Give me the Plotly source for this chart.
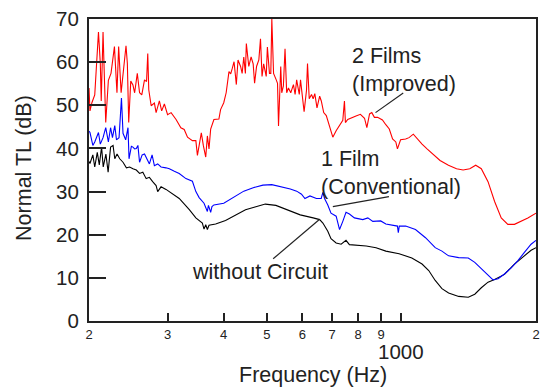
import math
import plotly.graph_objects as go

# ---------------- data ----------------
freq_red = [200, 201, 203, 206, 210, 212, 213, 215, 218, 221,
            224, 226, 228, 231, 233, 236, 239.5, 242, 243.7, 245.4,
            248, 250.8, 253, 256.5, 259.5, 262.5, 266.2, 269, 270.7, 272.1,
            275.5, 280.1, 282.6, 287.4, 290.8, 294.9, 299.8, 305.3, 313.2, 321,
            326.6, 332.2, 340.7, 346.8, 349.6, 355.7, 356.7, 360.4, 364.9, 368,
            371.1, 374.3, 380.6, 390.5, 393.9, 400.4, 405.4, 411.3, 415, 418.5,
            422.2, 427.2, 430.9, 436.7, 440.2, 443.9, 447.6, 449.8, 455.5, 461,
            465.9, 469.3, 474.1, 479.7, 483.8, 487.7, 491.8, 498.3, 501.3, 506.7,
            510.2, 512.9, 517.5, 524.7, 528.2, 530.9, 535.5, 537, 539.8, 544.4,
            549, 553.7, 558.7, 565.4, 573.3, 578.3, 582.9, 590.8, 594.6, 599.4,
            605.7, 613.2, 616.4, 621.9, 629.2, 634.6, 640, 647.3, 656.2, 661.8,
            670, 679, 690.7, 702.2, 714.4, 727, 739.3, 745.6, 749.3, 758.3,
            771.4, 791.3, 809.5, 826.8, 836.8, 848.5, 858.4, 870.1, 884.4, 906.8,
            922.8, 939.3, 955.3, 971.4, 979.6, 995.6, 1022, 1040, 1063, 1085,
            1112, 1141, 1181, 1220, 1274, 1328, 1374, 1422, 1466, 1509,
            1562, 1616, 1672, 1730, 1790, 1853, 1918, 2000]
tl_red = [54, 48.7, 50.6, 52.4, 67, 59.7, 51, 67, 46, 55.8,
          57.4, 60.4, 63.6, 52.9, 63.6, 52.9, 59.7, 63.8, 59.7, 46,
          55.6, 54.7, 52.9, 57.4, 52.9, 52.4, 55.9, 55.5, 62, 53.6,
          49.9, 50.5, 48.3, 51, 48.7, 50.3, 47.8, 48.3, 46.7, 44.8,
          44.4, 42.6, 41.8, 41.8, 38.4, 43.3, 43.6, 40.7, 38, 42.9,
          39.9, 44.5, 46.7, 46.8, 49, 50.6, 52.9, 57.8, 57.3, 58.6,
          60.1, 54.8, 60.5, 59, 57.4, 61.2, 57.4, 64.3, 59, 61.2,
          59.6, 55.1, 59, 60.5, 65.4, 56.7, 59.6, 56.7, 63.5, 57.4,
          57.4, 70, 57.4, 55.9, 55.1, 45.2, 55.9, 59, 52.9, 54.5,
          63.1, 52.9, 54, 52.9, 54.8, 52.5, 55.9, 52.5, 55.9, 53,
          48.5, 53.5, 59.7, 51.5, 52.5, 51.5, 52.7, 49.4, 52.1, 51,
          48.3, 47.6, 45.2, 42.6, 44.1, 45.3, 46.5, 51, 46, 46.7,
          47.1, 47.5, 47.9, 47, 44.8, 48, 48.3, 47.2, 47.2, 46.6,
          45.5, 44.5, 42.2, 41.5, 39.9, 42, 42.2, 42.5, 43.3, 42.2,
          41, 39.9, 38.4, 37.2, 36.1, 35.3, 35, 35.3, 36.1, 35.3,
          32.3, 27.7, 23.9, 22.4, 22.4, 23.1, 23.9, 25]

freq_blue = [200, 201, 204, 206, 210, 212, 215, 218, 221, 223.5,
             225.7, 228.4, 230.4, 233.5, 236.4, 238.3, 241.6, 244.5, 245.8, 248.8,
             250.8, 253, 255.2, 257.3, 259.5, 263, 266.2, 268.5, 273, 276.8,
             280.1, 284.9, 289.9, 297.4, 302.5, 310.4, 318.3, 329.5, 340.7, 346.8,
             352.7, 361.7, 368, 370, 374.3, 376.8, 380.6, 400.4, 422.2, 443.9,
             465.9, 489.9, 512.9, 536.2, 564.1, 583, 597.6, 608.2, 624.2, 645.3,
             661.5, 667.2, 673, 684.3, 695.7, 714.4, 727, 739.3, 751.6, 764.9,
             784.9, 819.5, 841.1, 862.8, 898.7, 922.8, 979.6, 984, 989, 1022,
             1075, 1132, 1190, 1232, 1275, 1343, 1411, 1459, 1509, 1562,
             1603, 1645, 1700, 1760, 1822, 1884, 1950, 2000]
tl_blue = [44, 43.7, 40.7, 41.5, 43.7, 41, 42.5, 44.8, 41.5, 44.8,
           42.5, 45.3, 42, 42.5, 51.7, 43.5, 42, 44.8, 37.6, 40.5,
           40.3, 39.9, 40, 40.7, 36.8, 38.5, 38.7, 38, 36.4, 38.5,
           36, 36.4, 35.7, 35.5, 35.3, 34.7, 34.2, 33, 32.4, 30,
           28.6, 27.3, 25.4, 26.8, 25.2, 26.5, 26.9, 27.3, 28.8, 30.1,
           30.9, 31.5, 31.6, 31.2, 30.6, 30.1, 29.4, 28.4, 29, 28.4,
           28.4, 29.8, 28.4, 26.9, 25, 24.3, 21.2, 23.1, 25.2, 24.8,
           23.9, 23.5, 23.9, 23.1, 23.2, 22.5, 22, 20.5, 22, 22,
           21.2, 19.3, 17, 16.2, 15.1, 14.7, 14.6, 13.6, 12.1, 10.5,
           9.5, 9.8, 10.9, 12.3, 14, 15.9, 17.8, 18.7]

freq_black = [200, 201, 204, 206, 208.7, 210.9, 213.4, 215.2, 218.2, 220.7,
              223.5, 226.4, 228.4, 231.1, 234.3, 238.3, 242.5, 246.6, 250.8, 255.2,
              259.5, 263.9, 268.5, 273, 277.6, 282.6, 284.9, 289.9, 297.4, 302.5,
              307.7, 318.3, 335.3, 346.8, 358.6, 361.7, 364.9, 368, 371.1, 384,
              404.1, 426.1, 447.9, 472.4, 496, 523.8, 564.1, 593.7, 634.6, 656.2,
              667.2, 684.3, 695.7, 714.4, 733, 751.6, 764.9, 791.3, 834.2, 877.5,
              922.8, 988, 1055, 1112, 1151, 1190, 1232, 1275, 1343, 1411,
              1459, 1509, 1562, 1616, 1700, 1790, 1884, 1950, 2000]
tl_black = [37, 36.5, 38.5, 35.7, 39.1, 36.2, 40.3, 35.7, 38.7, 34.5,
            40.3, 40.7, 37.6, 38.7, 37.6, 36.8, 35.5, 35.7, 35.3, 35,
            34.2, 34.5, 33, 33.3, 32.3, 31.4, 30, 31.1, 30.5, 30,
            29.6, 28.4, 25.8, 23.9, 22.7, 21.3, 22.3, 21.2, 22.2, 22.5,
            23.3, 24.6, 25.8, 26.5, 27.1, 26.8, 25.6, 24.6, 23.9, 23.5,
            22.7, 20.8, 19.1, 18.1, 17.8, 18.7, 17.7, 17.6, 17.4, 17,
            16.2, 15.6, 14.6, 13.2, 11.7, 9.4, 7.5, 6.5, 5.7, 5.5,
            6.2, 7.7, 9, 9.6, 10.8, 13.2, 15.1, 16.4, 17]

assert len(freq_red) == len(tl_red)
assert len(freq_blue) == len(tl_blue)
assert len(freq_black) == len(tl_black)

x_tickvals = [200, 300, 400, 500, 600, 700, 800, 900, 1000, 2000]
x_ticktext = ["2", "3", "4", "5", "6", "7", "8", "9", "", "2"]
y_tickvals = [0, 10, 20, 30, 40, 50, 60, 70]

FONT = "Arial, Liberation Sans, sans-serif"
TXT = "#222222"

fig = go.Figure()
fig.add_trace(go.Scatter(x=freq_black, y=tl_black, mode="lines",
                         line=dict(color="black", width=1.1), showlegend=False))
fig.add_trace(go.Scatter(x=freq_blue, y=tl_blue, mode="lines",
                         line=dict(color="#0000ff", width=1.1), showlegend=False))
fig.add_trace(go.Scatter(x=freq_red, y=tl_red, mode="lines",
                         line=dict(color="#ff0000", width=1.1), showlegend=False))

fig.update_layout(
    width=547, height=389,
    margin=dict(l=89, r=7, t=15, b=68),
    paper_bgcolor="white", plot_bgcolor="white",
    font=dict(family=FONT, color=TXT),
    xaxis=dict(type="log", range=[math.log10(200), math.log10(2000)],
               tickmode="array", tickvals=x_tickvals, ticktext=x_ticktext,
               ticks="inside", ticklen=8, tickwidth=1.5, tickcolor="#222",
               tickfont=dict(size=13, color=TXT, family=FONT),
               showline=True, linecolor="#222", linewidth=2, mirror=True,
               showgrid=False, zeroline=False),
    yaxis=dict(range=[0, 70], tickmode="array", tickvals=y_tickvals,
               ticks="inside", ticklen=17, tickwidth=1.5, tickcolor="#222",
               tickfont=dict(size=20.5, color=TXT, family=FONT),
               ticklabelstandoff=4,
               showline=True, linecolor="#222", linewidth=2, mirror=True,
               showgrid=False, zeroline=False),
)

# longer tick at 1000 Hz
fig.add_shape(type="line", xref="x", yref="paper",
              x0=math.log10(1000), x1=math.log10(1000), y0=0, y1=18 / 306,
              line=dict(color="#222", width=1.5))

# connector lines for the labels
for x0, y0, x1, y1 in [(0.641, 0.690, 0.703, 0.755),
                       (0.5455, 0.379, 0.671, 0.412),
                       (0.516, 0.337, 0.412, 0.206)]:
    fig.add_shape(type="line", xref="paper", yref="paper",
                  x0=x0, y0=y0, x1=x1, y1=y1,
                  line=dict(color="#222", width=1.2))

ann_font = dict(size=21.5, color=TXT, family=FONT)
fig.add_annotation(text="1000", xref="x", yref="paper", x=math.log10(1000), y=-0.101,
                   showarrow=False, xanchor="center", yanchor="middle",
                   font=dict(size=20.5, color=TXT, family=FONT))
fig.add_annotation(text="Frequency (Hz)", xref="paper", yref="paper", x=0.5, y=-0.18,
                   showarrow=False, xanchor="center", yanchor="middle", font=ann_font)
fig.add_annotation(text="Normal TL (dB)", xref="paper", yref="paper", x=-0.146, y=0.506,
                   showarrow=False, xanchor="center", yanchor="middle", textangle=-90,
                   font=ann_font)
fig.add_annotation(text="2 Films<br>(Improved)", xref="paper", yref="paper",
                   x=0.583, y=0.832, showarrow=False, xanchor="left", yanchor="middle",
                   align="left", font=ann_font)
fig.add_annotation(text="1 Film<br>(Conventional)", xref="paper", yref="paper",
                   x=0.515, y=0.489, showarrow=False, xanchor="left", yanchor="middle",
                   align="left", font=ann_font)
fig.add_annotation(text="without Circuit", xref="paper", yref="paper",
                   x=0.226, y=0.163, showarrow=False, xanchor="left", yanchor="middle",
                   align="left", font=ann_font)

fig.write_html("out.html")
